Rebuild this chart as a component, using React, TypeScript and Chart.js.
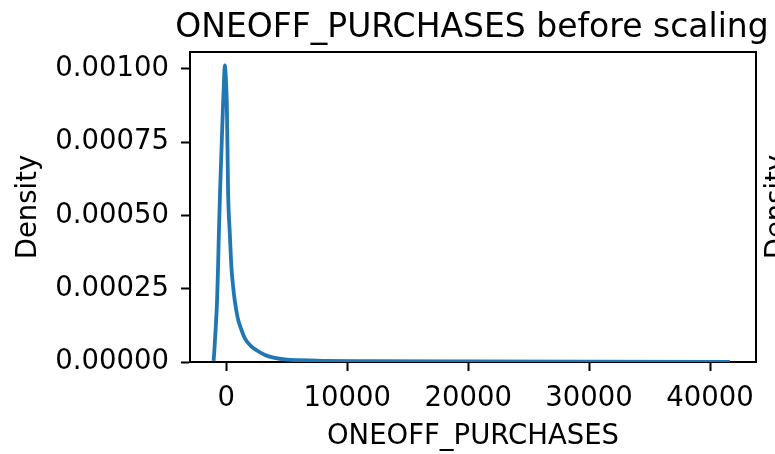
import React, { useEffect, useRef } from "react";
import { Chart, registerables } from "chart.js";

Chart.register(...registerables);

// Kernel density estimate of ONEOFF_PURCHASES (raw values, before scaling)
const purchaseValues = [
  -1050, -1000, -950, -870, -760, -680, -600, -500, -400, -300, -200, -120,
  -50, 50, 150, 290, 430, 560, 700, 950, 1250, 1550, 2000, 2500, 3200, 3900,
  5000, 6000, 8000, 12000, 20000, 30000, 41650,
];
const densityValues = [
  0.000004, 0.00003, 0.000065, 0.000119, 0.000212, 0.000324, 0.00046, 0.0006,
  0.00072, 0.00084, 0.00095, 0.001012, 0.00098, 0.00087, 0.00058, 0.00044,
  0.00032, 0.00026, 0.00021, 0.00015, 0.00011, 0.00008, 0.000056, 0.00004,
  0.000024, 0.000015, 0.000008, 0.000006, 0.000004, 0.000003, 0.000002,
  0.0000012, 0.0000005,
];

const xTickValues = [0, 10000, 20000, 30000, 40000];
const yTickValues = [0, 0.00025, 0.0005, 0.00075, 0.001];

const TITLE = "ONEOFF_PURCHASES before scaling";
const FONT = "'DejaVu Sans', 'Liberation Sans', sans-serif";
const TICK_SIZE = 27.5;
const LABEL_SIZE = 27.5;
const TITLE_SIZE = 33;

// Closes the axes box (top and right spines), writes the panel title
// centred over the plot (allowed to run past the canvas edge) and the
// neighbouring panel's y-axis label peeking in from the right.
const framePlugin = {
  id: "frame",
  afterDraw(chart: Chart) {
    const { ctx, chartArea } = chart;
    ctx.save();
    ctx.strokeStyle = "#000";
    ctx.lineWidth = 2;
    ctx.beginPath();
    ctx.moveTo(chartArea.left, chartArea.top);
    ctx.lineTo(chartArea.right, chartArea.top);
    ctx.lineTo(chartArea.right, chartArea.bottom);
    ctx.stroke();

    ctx.fillStyle = "#000";
    ctx.font = `${TITLE_SIZE}px ${FONT}`;
    ctx.textAlign = "center";
    ctx.textBaseline = "alphabetic";
    ctx.fillText(TITLE, (chartArea.left + chartArea.right) / 2 - 1, 37);

    ctx.translate(778, (chartArea.top + chartArea.bottom) / 2);
    ctx.rotate(-Math.PI / 2);
    ctx.font = `${LABEL_SIZE}px ${FONT}`;
    ctx.textBaseline = "middle";
    ctx.fillText("Density", 0, 0);
    ctx.restore();
  },
};

export default function App() {
  const canvasRef = useRef<HTMLCanvasElement | null>(null);

  useEffect(() => {
    const canvas = canvasRef.current;
    if (!canvas) return;
    const points = purchaseValues.map((x, i) => ({ x, y: densityValues[i] }));

    const chart = new Chart(canvas, {
      type: "line",
      data: {
        datasets: [
          {
            data: points,
            borderColor: "#1f77b4",
            borderWidth: 3.8,
            pointRadius: 0,
            cubicInterpolationMode: "monotone",
            fill: false,
          },
        ],
      },
      options: {
        animation: false,
        responsive: false,
        devicePixelRatio: 1,
        layout: { padding: { left: 0, right: 19, top: 52, bottom: 0 } },
        plugins: {
          legend: { display: false },
          tooltip: { enabled: false },
          title: { display: false },
        },
        scales: {
          x: {
            type: "linear",
            min: -3000,
            max: 43800,
            afterBuildTicks: (scale: any) => {
              scale.ticks = xTickValues.map((v) => ({ value: v }));
            },
            afterFit: (scale: any) => {
              scale.height = 92;
            },
            ticks: {
              autoSkip: false,
              maxRotation: 0,
              padding: 11,
              color: "#000",
              font: { family: FONT, size: TICK_SIZE },
              callback: (v: any) => String(v),
            },
            grid: {
              display: true,
              drawOnChartArea: false,
              drawTicks: true,
              tickLength: 9,
              tickWidth: 2,
              tickColor: "#000",
            },
            border: { display: true, color: "#000", width: 2 },
            title: {
              display: true,
              text: "ONEOFF_PURCHASES",
              color: "#000",
              font: { family: FONT, size: LABEL_SIZE },
              padding: { top: 0, bottom: 0.5 },
            },
          },
          y: {
            type: "linear",
            min: 0,
            max: 0.001058,
            afterBuildTicks: (scale: any) => {
              scale.ticks = yTickValues.map((v) => ({ value: v }));
            },
            afterFit: (scale: any) => {
              scale.width = 190;
            },
            ticks: {
              padding: 12,
              color: "#000",
              font: { family: FONT, size: TICK_SIZE },
              callback: (v: any) => Number(v).toFixed(5),
            },
            grid: {
              display: true,
              drawOnChartArea: false,
              drawTicks: true,
              tickLength: 9,
              tickWidth: 2,
              tickColor: "#000",
            },
            border: { display: true, color: "#000", width: 2 },
            title: {
              display: true,
              text: "Density",
              color: "#000",
              font: { family: FONT, size: LABEL_SIZE },
              padding: { top: 12, bottom: 0 },
            },
          },
        },
      },
      plugins: [framePlugin],
    });

    return () => chart.destroy();
  }, []);

  return (
    <div
      style={{
        position: "fixed",
        left: 0,
        top: 0,
        width: 775,
        height: 454,
        background: "#fff",
        overflow: "hidden",
      }}
    >
      <canvas ref={canvasRef} width={775} height={454} />
    </div>
  );
}
